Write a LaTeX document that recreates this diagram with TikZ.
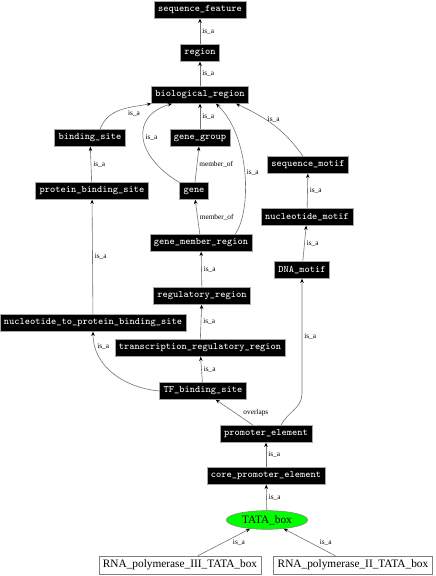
\documentclass[tikz,border=0pt]{standalone}
\usepackage{fontspec}
\setmainfont{Liberation Serif}
\usetikzlibrary{shapes.geometric, arrows.meta, calc}

\begin{document}
\begin{tikzpicture}[
    x=0.75pt, y=0.75pt,
    >={Stealth[length=3.2pt, width=2.6pt, color=black]},
    term/.style={rectangle, draw=black!35, fill=black, text=white, font=\ttfamily\fontsize{7.4}{8}\selectfont, minimum height=12.6pt, inner xsep=3pt, inner ysep=0pt},
    leaf/.style={rectangle, draw=black!50, fill=white, font=\fontsize{8.5}{10}\selectfont, minimum height=13.5pt, inner xsep=3pt, inner ysep=0pt},
    focus/.style={ellipse, draw=black!50, fill=green, font=\fontsize{8.5}{10}\selectfont, minimum width=61pt, minimum height=14pt, inner sep=0pt},
    arrow/.style={->, color=black!55, line width=0.45pt},
    edgelabel/.style={font=\fontsize{5.5}{6}\selectfont, color=black, inner sep=1.5pt},
]
\useasboundingbox (0,0) rectangle (436,576);

% --- Upper terms ---
\node[term] (seqfeat) at (200,566) {sequence\_feature};
\node[term] (region) at (200,523) {region};
\node[term] (bioreg) at (200,481) {biological\_region};

% --- Second row ---
\node[term] (bindsite) at (90,438) {binding\_site};
\node[term] (genegroup) at (200,438) {gene\_group};
\node[term] (seqmotif) at (308,411) {sequence\_motif};
\node[term] (protbind) at (92,385) {protein\_binding\_site};
\node[term] (gene) at (194,385) {gene};
\node[term] (ntmotif) at (307,359) {nucleotide\_motif};
\node[term] (genemember) at (201,333) {gene\_member\_region};
\node[term] (dnamotif) at (302,306) {DNA\_motif};

% --- Regulatory terms ---
\node[term] (regreg) at (202,280) {regulatory\_region};
\node[term] (ntprot) at (93,253) {nucleotide\_to\_protein\_binding\_site};
\node[term] (txreg) at (200,228) {transcription\_regulatory\_region};
\node[term] (tfbs) at (203,185) {TF\_binding\_site};

% --- Promoter terms ---
\node[term] (promoter) at (266,142) {promoter\_element};
\node[term] (corepromoter) at (266,100) {core\_promoter\_element};
\node[focus] (tatabox) at (267,56) {TATA\_box};

% --- Leaves ---
\node[leaf] (rnapol3) at (180,11) {RNA\_polymerase\_III\_TATA\_box};
\node[leaf] (rnapol2) at (353,11) {RNA\_polymerase\_II\_TATA\_box};

% --- Arrows: top chain ---
\draw[arrow] (region) -- node[edgelabel, right] {is\_a} (seqfeat);
\draw[arrow] (bioreg) -- node[edgelabel, right] {is\_a} (region);

% --- Arrows into biological_region ---
\draw[arrow] ($(bindsite.north)+(10,0)$) to[out=70, in=190] node[edgelabel, pos=0.6, below right] {is\_a} (bioreg.south west);
\draw[arrow] (gene.north west) .. controls (135,420) and (130,460) .. node[edgelabel, pos=0.5, right] {is\_a} ($(bioreg.south)+(-28,0)$);
\draw[arrow] (genegroup) -- node[edgelabel, right] {is\_a} (bioreg);
\draw[arrow] ($(genemember.north)+(34,0)$) .. controls (252,365) and (250,440) .. node[edgelabel, pos=0.5, right] {is\_a} ($(bioreg.south)+(16,0)$);
\draw[arrow] ($(seqmotif.north)+(-5,0)$) to[out=125, in=-25] node[edgelabel, pos=0.5, above] {is\_a} ($(bioreg.south)+(36,0)$);

% --- Arrows: middle ---
\draw[arrow] (protbind) -- node[edgelabel, right] {is\_a} (bindsite);
\draw[arrow] (gene) -- node[edgelabel, right] {member\_of} (genegroup);
\draw[arrow] (genemember) -- node[edgelabel, right] {member\_of} (gene);
\draw[arrow] (ntprot) -- node[edgelabel, right] {is\_a} (protbind);
\draw[arrow] (ntmotif) -- node[edgelabel, right] {is\_a} (seqmotif);
\draw[arrow] (dnamotif) -- node[edgelabel, right] {is\_a} (ntmotif);
\draw[arrow] (regreg) -- node[edgelabel, right] {is\_a} (genemember);
\draw[arrow] (txreg) -- node[edgelabel, right] {is\_a} (regreg);
\draw[arrow] (tfbs) -- node[edgelabel, right] {is\_a} (txreg);
\draw[arrow] (tfbs.west) to[out=175, in=-90] node[edgelabel, pos=0.85, right] {is\_a} (ntprot.south);

% --- Arrows: promoter ---
\draw[arrow] (promoter) -- node[edgelabel, pos=0.5, right=5pt] {overlaps} (tfbs);
\draw[arrow] ($(promoter.north)+(15,0)$) to[out=65, in=-90] ($(dnamotif.south)+(0,-115)$) -- node[edgelabel, right] {is\_a} (dnamotif.south);
\draw[arrow] (corepromoter) -- node[edgelabel, right] {is\_a} (promoter);
\draw[arrow] (tatabox) -- node[edgelabel, right] {is\_a} (corepromoter);

% --- Arrows: leaves ---
\draw[arrow] (rnapol3) -- node[edgelabel, pos=0.5, right=5pt] {is\_a} (tatabox);
\draw[arrow] (rnapol2) -- node[edgelabel, pos=0.5, right=6pt] {is\_a} (tatabox);

\end{tikzpicture}
\end{document}
